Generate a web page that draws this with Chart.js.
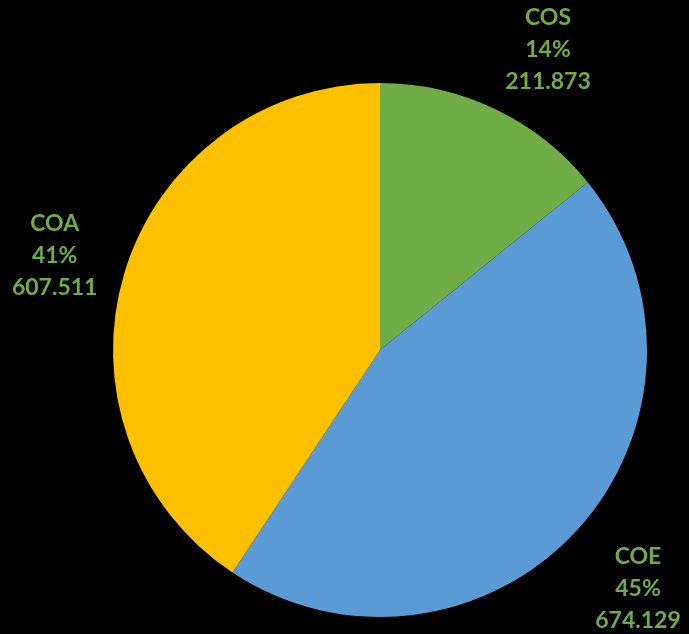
<!DOCTYPE html>
<html>
<head>
<meta charset="utf-8">
<script src="https://cdn.jsdelivr.net/npm/chart.js@4"></script>
<style>
  html, body { margin: 0; padding: 0; background: #000; }
  #wrap { width: 689px; height: 634px; }
</style>
</head>
<body>
<div id="wrap"><canvas id="pie-chart"></canvas></div>
<script>
const categories = ['COS', 'COE', 'COA'];
const values = [211.873, 674.129, 607.511];
const sliceColors = ['#70AD47', '#5B9BD5', '#FFC000'];

// labels outside the slices, like excel's "best fit"
const outsideLabels = {
    id: 'outsideLabels',
    afterDatasetsDraw(chart) {
        const ctx = chart.ctx;
        const meta = chart.getDatasetMeta(0);
        const total = values.reduce((a, b) => a + b, 0);
        ctx.save();
        ctx.fillStyle = '#70AD47';
        ctx.font = 'bold 23px Lato';
        ctx.textAlign = 'center';
        ctx.textBaseline = 'middle';
        const lineH = 32;
        const gap = 18;
        meta.data.forEach((arc, i) => {
            const mid = (arc.startAngle + arc.endAngle) / 2;
            const dx = Math.cos(mid), dy = Math.sin(mid);
            const lines = [
                categories[i],
                Math.round(values[i] / total * 100) + '%',
                values[i].toFixed(3)
            ];
            const halfW = Math.max(...lines.map(l => ctx.measureText(l).width)) / 2;
            const halfH = lineH * 1.5;
            const dist = arc.outerRadius + gap + halfW * Math.abs(dx) + halfH * Math.abs(dy);
            let x = arc.x + dx * dist;
            let y = arc.y + dy * dist;
            const yc = Math.min(Math.max(y, halfH - 2), chart.height - halfH + 2);
            if (yc !== y) {
                // pushed against the edge: slide sideways until the box clears the pie
                y = yc;
                const R = arc.outerRadius + gap;
                const edgeY = y - arc.y - Math.sign(dy) * halfH;
                const need = Math.sqrt(Math.max(R * R - edgeY * edgeY, 0));
                const nx = arc.x + Math.sign(dx) * (need + halfW);
                if (Math.abs(nx - arc.x) > Math.abs(x - arc.x)) x = nx;
            }
            x = Math.min(Math.max(x, halfW + 4), chart.width - halfW - 4);
            lines.forEach((l, k) => {
                ctx.fillText(l, x, y + 4 + (k - 1) * lineH);
            });
        });
        ctx.restore();
    }
};

new Chart(document.querySelector('#pie-chart').getContext('2d'), {
    type: 'pie',
    data: {
        labels: categories,
        datasets: [{
            data: values,
            backgroundColor: sliceColors,
            borderWidth: 0
        }]
    },
    options: {
        responsive: true,
        maintainAspectRatio: false,
        animation: false,
        layout: { padding: { left: 113, right: 42, top: 83, bottom: 17 } },
        plugins: {
            legend: { display: false },
            tooltip: { enabled: false }
        }
    },
    plugins: [outsideLabels]
});
</script>
</body>
</html>
